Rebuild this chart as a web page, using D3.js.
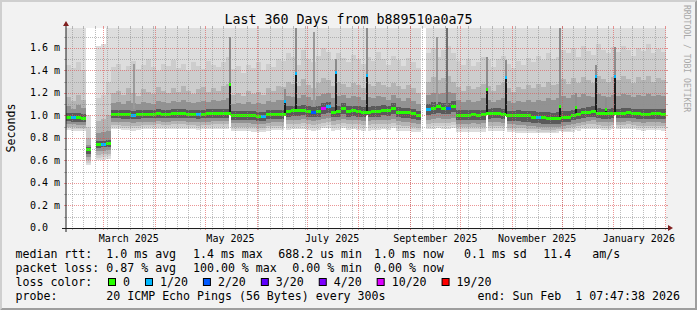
<!DOCTYPE html>
<html>
<head>
<meta charset="utf-8">
<script src="https://cdn.jsdelivr.net/npm/d3@7"></script>
<style>
  html, body { margin: 0; padding: 0; background: #f2f2f2; }
  svg { display: block; }
  text { font-family: "DejaVu Sans Mono", monospace; fill: #000; white-space: pre; }
</style>
</head>
<body>
<svg id="chart" width="697" height="310"></svg>
<script>
// ---- data -------------------------------------------------------------
const DAY = 86400000;
const endTime = Date.UTC(2026, 1, 1, 7, 47, 38);
const startTime = endTime - 360 * DAY;
const bucketDays = 3; // one value per 3 days, 120 buckets

// median rtt in ms
const median = [
  0.985, 0.98, 0.978, 0.975, 0.695, null, 0.74, 0.745, 0.75, 1.012,
  1.01, 1.008, 1.005, 0.998, 1.005, 1.012, 1.01, 1.012, 1.015, 1.012,
  1.01, 1.015, 1.018, 1.015, 1.012, 1.012, 1.008, 1.012, 1.015, 1.02,
  1.02, 1.018, 1.02, 1.0, 1.0, 1.002, 1.0, 0.995, 0.99, 0.99,
  1.005, 1.012, 1.012, 1.01, 1.035, 1.04, 1.04, 1.045, 1.035, 1.03,
  1.035, 1.06, 1.075, 1.03, 1.035, 1.065, 1.035, 1.04, 1.035, 1.03,
  1.03, 1.035, 1.035, 1.045, 1.04, 1.065, 1.03, 1.028, 1.025, 1.015,
  0.995, null, 1.05, 1.065, 1.075, 1.06, 1.06, 1.08, 1.0, 0.998,
  1.0, 1.005, 1.0, 1.005, 1.015, 1.02, 1.02, 1.01, 0.998, 0.998,
  1.0, 0.998, 0.995, 0.985, 0.98, 0.978, 0.975, 0.972, 0.975, 0.985,
  0.985, 1.0, 1.01, 1.025, 1.03, 1.035, 1.02, 1.015, 1.015, 1.02,
  1.018, 1.02, 1.022, 1.018, 1.015, 1.01, 1.012, 1.015, 1.015, 1.012
];

// lost pings out of 20
const lossCount = [
  0, 1, 0, 0, 0, 0, 0, 1, 0, 0,
  0, 0, 0, 1, 0, 0, 0, 0, 0, 0,
  0, 0, 0, 0, 0, 0, 1, 0, 0, 0,
  0, 0, 0, 0, 0, 0, 0, 0, 0, 1,
  0, 0, 0, 0, 0, 0, 0, 0, 0, 2,
  0, 10, 1, 0, 0, 0, 0, 0, 0, 0,
  0, 0, 0, 0, 0, 0, 0, 0, 0, 0,
  0, 0, 1, 0, 0, 0, 2, 0, 0, 0,
  0, 0, 0, 0, 0, 0, 0, 0, 0, 0,
  0, 0, 0, 0, 1, 0, 0, 0, 0, 0,
  0, 0, 0, 0, 0, 0, 0, 0, 0, 0,
  0, 0, 0, 0, 0, 0, 0, 0, 0, 0
];

// smoke: upper edges of the five bands (outer -> inner), ms
const smokeHigh1 = [
  1.9, 1.9, 1.9, 1.9, 1.0, null, 1.62, 1.63, 1.9, 1.9,
  1.9, 1.9, 1.9, 1.9, 1.9, 1.9, 1.9, 1.9, 1.9, 1.9,
  1.9, 1.9, 1.9, 1.9, 1.9, 1.9, 1.9, 1.9, 1.9, 1.9,
  1.9, 1.9, 1.9, 1.9, 1.9, 1.9, 1.9, 1.9, 1.9, 1.9,
  1.9, 1.9, 1.9, 1.9, 1.9, 1.9, 1.9, 1.9, 1.9, 1.9,
  1.9, 1.9, 1.9, 1.9, 1.9, 1.9, 1.9, 1.9, 1.9, 1.9,
  1.9, 1.9, 1.9, 1.9, 1.9, 1.9, 1.9, 1.9, 1.9, 1.9,
  1.9, null, 1.9, 1.9, 1.9, 1.9, 1.9, 1.9, 1.9, 1.9,
  1.9, 1.9, 1.9, 1.9, 1.9, 1.9, 1.9, 1.9, 1.9, 1.9,
  1.9, 1.9, 1.9, 1.9, 1.9, 1.9, 1.9, 1.9, 1.9, 1.9,
  1.9, 1.9, 1.9, 1.9, 1.9, 1.9, 1.9, 1.9, 1.9, 1.9,
  1.9, 1.9, 1.9, 1.9, 1.9, 1.9, 1.9, 1.9, 1.9, 1.9
];
const smokeHigh2 = [
  1.45, 1.42, 1.47, 1.40, 0.90, null, 1.15, 1.18, 1.30, 1.43,
  1.46, 1.40, 1.44, 1.48, 1.41, 1.45, 1.50, 1.43, 1.39, 1.46,
  1.44, 1.49, 1.42, 1.46, 1.40, 1.47, 1.44, 1.41, 1.48, 1.45,
  1.43, 1.47, 1.52, 1.41, 1.44, 1.38, 1.45, 1.42, 1.47, 1.40,
  1.46, 1.43, 1.50, 1.48, 1.55, 1.52, 1.45, 1.58, 1.50, 1.47,
  1.53, 1.60, 1.56, 1.49, 1.55, 1.51, 1.47, 1.54, 1.50, 1.46,
  1.52, 1.48, 1.56, 1.50, 1.45, 1.53, 1.49, 1.44, 1.51, 1.47,
  1.42, null, 1.55, 1.60, 1.52, 1.58, 1.62, 1.55, 1.48, 1.45,
  1.50, 1.44, 1.47, 1.52, 1.49, 1.43, 1.50, 1.53, 1.46, 1.42,
  1.48, 1.45, 1.51, 1.47, 1.53, 1.49, 1.55, 1.50, 1.52, 1.58,
  1.55, 1.60, 1.52, 1.62, 1.57, 1.54, 1.63, 1.58, 1.55, 1.61,
  1.56, 1.62, 1.58, 1.53, 1.60, 1.57, 1.63, 1.55, 1.59, 1.56
];
const smokeHigh3 = [
  1.16, 1.13, 1.18, 1.14, 0.80, null, 0.95, 0.97, 1.00, 1.20,
  1.22, 1.18, 1.24, 1.20, 1.17, 1.23, 1.21, 1.19, 1.25, 1.22,
  1.20, 1.24, 1.21, 1.26, 1.22, 1.19, 1.23, 1.25, 1.21, 1.24,
  1.22, 1.26, 1.28, 1.18, 1.20, 1.17, 1.22, 1.19, 1.21, 1.18,
  1.24, 1.22, 1.26, 1.25, 1.30, 1.28, 1.26, 1.32, 1.27, 1.24,
  1.29, 1.33, 1.31, 1.26, 1.30, 1.28, 1.25, 1.29, 1.27, 1.24,
  1.28, 1.26, 1.30, 1.27, 1.25, 1.29, 1.26, 1.23, 1.27, 1.24,
  1.20, null, 1.30, 1.34, 1.31, 1.33, 1.35, 1.30, 1.25, 1.22,
  1.26, 1.23, 1.25, 1.28, 1.26, 1.22, 1.27, 1.29, 1.24, 1.21,
  1.25, 1.23, 1.27, 1.24, 1.28, 1.25, 1.30, 1.27, 1.28, 1.32,
  1.28, 1.33, 1.29, 1.34, 1.31, 1.29, 1.35, 1.32, 1.30, 1.34,
  1.31, 1.35, 1.32, 1.29, 1.34, 1.31, 1.35, 1.30, 1.33, 1.31
];
const smokeHigh4 = [
  1.08, 1.06, 1.09, 1.07, 0.74, null, 0.84, 0.85, 0.86, 1.11,
  1.12, 1.10, 1.13, 1.11, 1.10, 1.12, 1.11, 1.10, 1.13, 1.12,
  1.11, 1.13, 1.12, 1.14, 1.12, 1.11, 1.12, 1.13, 1.12, 1.14,
  1.13, 1.14, 1.15, 1.10, 1.11, 1.10, 1.12, 1.10, 1.11, 1.10,
  1.13, 1.12, 1.14, 1.14, 1.17, 1.16, 1.15, 1.18, 1.16, 1.14,
  1.17, 1.19, 1.20, 1.15, 1.17, 1.18, 1.15, 1.17, 1.16, 1.14,
  1.16, 1.15, 1.17, 1.16, 1.14, 1.18, 1.15, 1.13, 1.15, 1.13,
  1.10, null, 1.18, 1.20, 1.19, 1.20, 1.21, 1.20, 1.14, 1.12,
  1.14, 1.12, 1.13, 1.15, 1.14, 1.12, 1.14, 1.15, 1.13, 1.11,
  1.13, 1.12, 1.14, 1.12, 1.14, 1.13, 1.15, 1.14, 1.15, 1.17,
  1.15, 1.18, 1.16, 1.19, 1.17, 1.16, 1.19, 1.17, 1.16, 1.18,
  1.17, 1.19, 1.18, 1.16, 1.18, 1.17, 1.19, 1.17, 1.18, 1.17
];
const smokeHigh5 = [
  1.02, 1.02, 1.025, 1.015, 0.72, null, 0.77, 0.775, 0.78, 1.05,
  1.05, 1.045, 1.05, 1.04, 1.045, 1.05, 1.05, 1.05, 1.055, 1.05,
  1.05, 1.055, 1.055, 1.055, 1.05, 1.05, 1.045, 1.05, 1.055, 1.06,
  1.06, 1.055, 1.06, 1.04, 1.04, 1.04, 1.04, 1.035, 1.03, 1.03,
  1.045, 1.05, 1.05, 1.05, 1.08, 1.085, 1.08, 1.09, 1.08, 1.075,
  1.08, 1.11, 1.12, 1.075, 1.08, 1.11, 1.08, 1.085, 1.08, 1.075,
  1.075, 1.08, 1.08, 1.09, 1.085, 1.11, 1.075, 1.07, 1.07, 1.06,
  1.04, null, 1.10, 1.115, 1.12, 1.11, 1.11, 1.13, 1.05, 1.045,
  1.045, 1.05, 1.045, 1.05, 1.06, 1.065, 1.065, 1.055, 1.04, 1.04,
  1.045, 1.04, 1.04, 1.035, 1.03, 1.03, 1.03, 1.025, 1.03, 1.035,
  1.035, 1.045, 1.055, 1.07, 1.075, 1.08, 1.065, 1.06, 1.06, 1.065,
  1.06, 1.065, 1.065, 1.06, 1.06, 1.055, 1.055, 1.06, 1.06, 1.055
];

// smoke: lower edges of the five bands (outer -> inner), ms
const smokeLow1 = [
  0.87, 0.865, 0.86, 0.86, 0.56, null, 0.6, 0.605, 0.61, 0.875,
  0.875, 0.87, 0.87, 0.865, 0.87, 0.875, 0.875, 0.875, 0.88, 0.875,
  0.875, 0.88, 0.88, 0.88, 0.875, 0.875, 0.87, 0.875, 0.875, 0.88,
  0.88, 0.88, 0.88, 0.86, 0.86, 0.86, 0.86, 0.855, 0.85, 0.85,
  0.865, 0.87, 0.87, 0.87, 0.87, 0.875, 0.875, 0.88, 0.87, 0.865,
  0.87, 0.885, 0.89, 0.865, 0.87, 0.885, 0.87, 0.875, 0.87, 0.865,
  0.865, 0.87, 0.87, 0.875, 0.87, 0.885, 0.865, 0.86, 0.86, 0.855,
  0.85, null, 0.875, 0.88, 0.885, 0.88, 0.88, 0.89, 0.85, 0.85,
  0.85, 0.855, 0.85, 0.855, 0.86, 0.865, 0.865, 0.86, 0.85, 0.85,
  0.845, 0.845, 0.84, 0.84, 0.84, 0.84, 0.84, 0.84, 0.845, 0.85,
  0.85, 0.855, 0.865, 0.875, 0.88, 0.88, 0.875, 0.87, 0.87, 0.875,
  0.875, 0.875, 0.88, 0.875, 0.87, 0.865, 0.87, 0.87, 0.87, 0.865
];
const smokeLow2 = [
  0.885, 0.88, 0.875, 0.875, 0.58, null, 0.625, 0.63, 0.635, 0.895,
  0.895, 0.89, 0.89, 0.885, 0.89, 0.895, 0.895, 0.895, 0.9, 0.895,
  0.895, 0.9, 0.9, 0.9, 0.895, 0.895, 0.89, 0.895, 0.895, 0.9,
  0.9, 0.9, 0.9, 0.88, 0.88, 0.88, 0.88, 0.875, 0.87, 0.87,
  0.885, 0.89, 0.89, 0.89, 0.895, 0.9, 0.9, 0.905, 0.895, 0.89,
  0.895, 0.91, 0.915, 0.89, 0.895, 0.91, 0.895, 0.9, 0.895, 0.89,
  0.89, 0.895, 0.895, 0.9, 0.895, 0.91, 0.89, 0.885, 0.885, 0.88,
  0.87, null, 0.9, 0.905, 0.91, 0.905, 0.905, 0.915, 0.875, 0.875,
  0.875, 0.88, 0.875, 0.88, 0.885, 0.89, 0.89, 0.885, 0.87, 0.87,
  0.865, 0.865, 0.86, 0.86, 0.855, 0.855, 0.855, 0.855, 0.86, 0.865,
  0.865, 0.875, 0.885, 0.895, 0.9, 0.9, 0.895, 0.89, 0.89, 0.895,
  0.895, 0.895, 0.9, 0.895, 0.89, 0.885, 0.89, 0.89, 0.89, 0.885
];
const smokeLow3 = [
  0.9, 0.895, 0.89, 0.89, 0.6, null, 0.65, 0.655, 0.66, 0.915,
  0.915, 0.91, 0.91, 0.905, 0.91, 0.915, 0.915, 0.915, 0.92, 0.915,
  0.915, 0.92, 0.92, 0.92, 0.915, 0.915, 0.91, 0.915, 0.915, 0.92,
  0.92, 0.92, 0.92, 0.9, 0.9, 0.9, 0.9, 0.895, 0.89, 0.89,
  0.905, 0.91, 0.91, 0.91, 0.92, 0.925, 0.925, 0.93, 0.92, 0.915,
  0.92, 0.935, 0.94, 0.915, 0.92, 0.935, 0.92, 0.925, 0.92, 0.915,
  0.915, 0.92, 0.92, 0.925, 0.92, 0.935, 0.915, 0.91, 0.91, 0.9,
  0.89, null, 0.925, 0.93, 0.935, 0.93, 0.93, 0.94, 0.895, 0.895,
  0.895, 0.9, 0.895, 0.9, 0.905, 0.91, 0.91, 0.905, 0.89, 0.89,
  0.885, 0.885, 0.88, 0.875, 0.875, 0.87, 0.87, 0.87, 0.875, 0.88,
  0.885, 0.895, 0.905, 0.915, 0.92, 0.925, 0.915, 0.91, 0.91, 0.915,
  0.915, 0.915, 0.92, 0.915, 0.91, 0.905, 0.91, 0.91, 0.91, 0.905
];
const smokeLow4 = [
  0.925, 0.92, 0.915, 0.915, 0.63, null, 0.68, 0.685, 0.69, 0.945,
  0.945, 0.94, 0.94, 0.935, 0.94, 0.945, 0.945, 0.945, 0.95, 0.945,
  0.945, 0.95, 0.95, 0.95, 0.945, 0.945, 0.94, 0.945, 0.945, 0.95,
  0.95, 0.95, 0.95, 0.93, 0.93, 0.93, 0.93, 0.925, 0.92, 0.92,
  0.935, 0.94, 0.94, 0.94, 0.955, 0.96, 0.96, 0.965, 0.955, 0.95,
  0.955, 0.97, 0.975, 0.95, 0.955, 0.97, 0.955, 0.96, 0.955, 0.95,
  0.95, 0.955, 0.955, 0.96, 0.955, 0.97, 0.95, 0.945, 0.945, 0.935,
  0.92, null, 0.96, 0.965, 0.975, 0.965, 0.965, 0.98, 0.925, 0.925,
  0.925, 0.93, 0.925, 0.93, 0.94, 0.94, 0.94, 0.935, 0.92, 0.92,
  0.915, 0.915, 0.91, 0.905, 0.9, 0.9, 0.895, 0.895, 0.9, 0.91,
  0.915, 0.925, 0.935, 0.945, 0.95, 0.955, 0.945, 0.94, 0.94, 0.945,
  0.945, 0.945, 0.95, 0.945, 0.94, 0.935, 0.94, 0.94, 0.94, 0.935
];
const smokeLow5 = [
  0.95, 0.945, 0.945, 0.94, 0.66, null, 0.71, 0.715, 0.72, 0.975,
  0.975, 0.97, 0.97, 0.965, 0.97, 0.975, 0.975, 0.975, 0.98, 0.975,
  0.975, 0.98, 0.98, 0.98, 0.975, 0.975, 0.97, 0.975, 0.975, 0.98,
  0.98, 0.98, 0.98, 0.96, 0.96, 0.96, 0.96, 0.955, 0.95, 0.95,
  0.965, 0.97, 0.97, 0.97, 0.99, 0.995, 0.995, 1.0, 0.99, 0.985,
  0.99, 1.01, 1.02, 0.985, 0.99, 1.01, 0.99, 0.995, 0.99, 0.985,
  0.985, 0.99, 0.99, 1.0, 0.995, 1.01, 0.985, 0.98, 0.98, 0.97,
  0.955, null, 1.0, 1.01, 1.02, 1.01, 1.01, 1.03, 0.955, 0.955,
  0.955, 0.96, 0.955, 0.96, 0.97, 0.975, 0.975, 0.965, 0.95, 0.95,
  0.95, 0.945, 0.945, 0.935, 0.93, 0.925, 0.925, 0.92, 0.925, 0.94,
  0.945, 0.955, 0.965, 0.98, 0.985, 0.99, 0.975, 0.97, 0.97, 0.975,
  0.975, 0.975, 0.98, 0.975, 0.97, 0.965, 0.97, 0.97, 0.97, 0.965
];
const smokeColors = ["#dddddd", "#cdcdcd", "#b4b4b4", "#929292", "#5a5a5a"];

// single-day latency spikes (day offset from start)
const spikeDays   = [98.1, 131.1, 137.4, 161.4, 180.3, 252.3, 263.4, 296.1, 305.4, 317.7, 323.8, 329.1];
const spikeFloor  = [1.0, 1.0, 0.87, 0.87, 1.0, 1.0, 1.0, 0.86, 0.87, 0.87, 0.87, 1.0];
const spikeLow    = [1.02, 1.01, 1.04, 1.03, 1.03, 1.01, 1.01, 0.975, 1.02, 1.03, 1.02, 1.02];
const spikeMedian = [1.27, 1.125, 1.375, 1.385, 1.355, 1.234, 1.34, 1.08, 1.07, 1.346, 1.055, 1.346];
const spikeTop    = [1.70, 1.23, 1.78, 1.50, 1.78, 1.52, 1.49, 1.78, 1.2, 1.45, 1.15, 1.61];
const spikeLoss   = [0, 1, 1, 1, 1, 0, 1, 0, 0, 1, 0, 1];

// single-day smoke streaks without a median jump
const streakDays = [40.5, 148.5, 222.2, 228.4];
const streakLow  = [1.06, 1.08, 1.1, 1.08];
const streakTop  = [1.46, 1.74, 1.70, 1.78];

const lossSteps  = [0, 1, 2, 3, 4, 10, 19];
const lossLabels = ["0", "1/20", "2/20", "3/20", "4/20", "10/20", "19/20"];
const lossColors = ["#26ff00", "#00b8ff", "#0059ff", "#5e00ff", "#7e00ff", "#dd00ff", "#ff0000"];

const yTicks = [0, 0.2, 0.4, 0.6, 0.8, 1.0, 1.2, 1.4, 1.6];
const yTickLabels = ["0.0", "0.2 m", "0.4 m", "0.6 m", "0.8 m", "1.0 m", "1.2 m", "1.4 m", "1.6 m"];
const xLabelMonths = ["2025-03", "2025-05", "2025-07", "2025-09", "2025-11", "2026-01"];

const title = "Last 360 Days from b889510a0a75";
const legendRows = [
  [["median rtt:", 15.5], ["1.0 ms avg", 106.3], ["1.4 ms max", 193], ["688.2 us min", 278.3],
   ["1.0 ms now", 374], ["0.1 ms sd", 464], ["11.4", 543.3], ["am/s", 592.3]],
  [["packet loss:", 15.5], ["0.87 % avg", 106.3], ["100.00 % max", 193], ["0.00 % min", 292.3],
   ["0.00 % now", 374]],
  [["loss color:", 15.5]],
  [["probe:", 15.5], ["20 ICMP Echo Pings (56 Bytes) every 300s", 106.3],
   ["end: Sun Feb  1 07:47:38 2026", 477.5]]
];

// ---- layout -------------------------------------------------------------
const W = 697, H = 310;
const pLeft = 66, pRight = 666, pTop = 28, pBottom = 228;

const svg = d3.select("#chart");
const x = d3.scaleUtc().domain([new Date(startTime), new Date(endTime)]).range([pLeft, pRight]);
const y = d3.scaleLinear().domain([0, 1.776]).range([pBottom, pTop]);
const dayDate = (d) => new Date(startTime + d * DAY);
const lossColor = (n) => lossColors[d3.bisectRight(lossSteps, n) - 1];

// background + 3d frame
svg.append("rect").attr("width", W).attr("height", H).attr("fill", "#f2f2f2");
svg.append("path").attr("d", "M0,0L697,0L695,2L2,2L2,308L0,310Z").attr("fill", "#cfcfcf");
svg.append("path").attr("d", "M697,0L697,310L0,310L2,308L695,308L695,2Z").attr("fill", "#9e9e9e");

svg.append("defs").append("clipPath").attr("id", "plotClip")
  .append("rect").attr("x", pLeft).attr("y", pTop).attr("width", pRight - pLeft).attr("height", pBottom - pTop);

svg.append("rect").attr("x", pLeft).attr("y", pTop).attr("width", pRight - pLeft)
  .attr("height", pBottom - pTop).attr("fill", "#ffffff");

const plot = svg.append("g").attr("clip-path", "url(#plotClip)").attr("shape-rendering", "crispEdges");

const buckets = d3.range(median.length).map((k) => ({
  k,
  t0: dayDate(k * bucketDays),
  t1: dayDate((k + 1) * bucketDays),
}));

const bands = [
  { lo: smokeLow1, hi: smokeHigh1 },
  { lo: smokeLow2, hi: smokeHigh2 },
  { lo: smokeLow3, hi: smokeHigh3 },
  { lo: smokeLow4, hi: smokeHigh4 },
  { lo: smokeLow5, hi: smokeHigh5 },
];

bands.forEach((band, i) => {
  plot.append("g")
    .selectAll("rect")
    .data(buckets.filter((b) => band.hi[b.k] != null))
    .join("rect")
    .attr("x", (b) => x(b.t0))
    .attr("width", (b) => x(b.t1) - x(b.t0))
    .attr("y", (b) => y(band.hi[b.k]))
    .attr("height", (b) => y(band.lo[b.k]) - y(band.hi[b.k]))
    .attr("fill", smokeColors[i]);
});

// streaks
plot.append("g")
  .selectAll("rect")
  .data(streakDays)
  .join("rect")
  .attr("x", (d) => Math.floor(x(dayDate(d))))
  .attr("width", 2)
  .attr("y", (d, i) => y(streakTop[i]))
  .attr("height", (d, i) => y(streakLow[i]) - y(streakTop[i]))
  .attr("fill", (d, i) => (i === 3 ? "#6e6e6e" : "#9a9a9a"));

// spikes
const spikeG = plot.append("g");
spikeDays.forEach((d, i) => {
  const sx = Math.floor(x(dayDate(d)));
  spikeG.append("rect").attr("x", sx).attr("width", 2)
    .attr("y", y(spikeFloor[i])).attr("height", y(0.8) - y(spikeFloor[i])).attr("fill", "#ffffff");
  spikeG.append("rect").attr("x", sx).attr("width", 2)
    .attr("y", y(spikeTop[i])).attr("height", y(spikeMedian[i]) - y(spikeTop[i])).attr("fill", "#8c8c8c");
  spikeG.append("rect").attr("x", sx).attr("width", 2)
    .attr("y", y(spikeMedian[i])).attr("height", y(spikeLow[i]) - y(spikeMedian[i])).attr("fill", "#1c1c1c");
});

// median, coloured by loss
plot.append("g")
  .selectAll("rect")
  .data(buckets.filter((b) => median[b.k] != null))
  .join("rect")
  .attr("x", (b) => x(b.t0))
  .attr("width", (b) => x(b.t1) - x(b.t0))
  .attr("y", (b) => y(median[b.k]) - 1.5)
  .attr("height", 3)
  .attr("fill", (b) => lossColor(lossCount[b.k]));

plot.append("g")
  .selectAll("rect")
  .data(spikeDays)
  .join("rect")
  .attr("x", (d) => Math.floor(x(dayDate(d))))
  .attr("width", 2)
  .attr("y", (d, i) => y(spikeMedian[i]) - 1.5)
  .attr("height", 3)
  .attr("fill", (d, i) => lossColor(spikeLoss[i]));

// ---- grid -------------------------------------------------------------
const gridColor = "rgba(143,143,143,0.6)";
const mgridColor = "rgba(222,79,79,0.6)";
const grid = svg.append("g").attr("shape-rendering", "crispEdges");

const weeks = d3.utcMonday.range(x.domain()[0], x.domain()[1]);
const months = d3.utcMonth.range(x.domain()[0], x.domain()[1]);
const vLines = weeks.map((d) => ({ d, major: false }))
  .concat(months.map((d) => ({ d, major: true })));

vLines.forEach((v) => {
  const px = Math.floor(x(v.d)) + 0.5;
  const c = v.major ? mgridColor : gridColor;
  grid.append("line").attr("x1", px).attr("x2", px).attr("y1", pTop).attr("y2", pBottom)
    .attr("stroke", c).attr("stroke-dasharray", "1,1");
  grid.append("line").attr("x1", px).attr("x2", px).attr("y1", pBottom).attr("y2", pBottom + 2).attr("stroke", c);
  grid.append("line").attr("x1", px).attr("x2", px).attr("y1", pTop - 2).attr("y2", pTop).attr("stroke", c);
});

d3.range(1, 18).forEach((i) => {
  const py = Math.round(y(i / 10)) + 0.5;
  const c = i % 2 === 0 ? mgridColor : gridColor;
  grid.append("line").attr("x1", pLeft).attr("x2", pRight).attr("y1", py).attr("y2", py)
    .attr("stroke", c).attr("stroke-dasharray", "1,1");
  grid.append("line").attr("x1", pLeft - 2).attr("x2", pLeft).attr("y1", py).attr("y2", py).attr("stroke", c);
  grid.append("line").attr("x1", pRight).attr("x2", pRight + 2).attr("y1", py).attr("y2", py).attr("stroke", c);
});

// ---- axes -------------------------------------------------------------
svg.append("line").attr("x1", pLeft - 4).attr("x2", pRight + 4).attr("y1", pBottom + 0.5).attr("y2", pBottom + 0.5)
  .attr("stroke", "#1f1f1f");
svg.append("line").attr("x1", pLeft).attr("x2", pLeft).attr("y1", pBottom + 4).attr("y2", pTop - 4)
  .attr("stroke", "#1f1f1f");
svg.append("path")
  .attr("d", `M${pRight + 2},${pBottom - 3}L${pRight + 2},${pBottom + 3}L${pRight + 7},${pBottom}Z`)
  .attr("fill", "#801f1f");
svg.append("path")
  .attr("d", `M${pLeft - 3},${pTop - 2}L${pLeft + 3},${pTop - 2}L${pLeft},${pTop - 7}Z`)
  .attr("fill", "#801f1f");

svg.append("g").selectAll("text")
  .data(yTicks)
  .join("text")
  .attr("x", 30)
  .attr("y", (d) => y(d) + 3.4)
  .attr("font-size", "10px")
  .text((d, i) => yTickLabels[i]);

const parseMonth = d3.utcParse("%Y-%m");
const fmtMonth = d3.utcFormat("%B %Y");
svg.append("g").selectAll("text")
  .data(xLabelMonths.map(parseMonth))
  .join("text")
  .attr("x", (d) => x(d3.utcDay.offset(d, 15)))
  .attr("y", 241.5)
  .attr("text-anchor", "middle")
  .attr("font-size", "10px")
  .text((d) => fmtMonth(d));

// ---- titles -------------------------------------------------------------
svg.append("text").attr("x", W / 2).attr("y", 23.6).attr("text-anchor", "middle")
  .attr("font-size", "13.3px").text(title);

svg.append("text").attr("transform", `translate(15,${(pTop + pBottom) / 2}) rotate(-90)`)
  .attr("text-anchor", "middle").attr("font-size", "11.6px").text("Seconds");

svg.append("text").attr("transform", "translate(684,5) rotate(90)")
  .attr("font-size", "8.1px").style("fill", "#a8a8a8").text("RRDTOOL / TOBI OETIKER");

// ---- legend -------------------------------------------------------------
const rowY = [258, 272, 286, 300];
legendRows.forEach((row, r) => {
  row.forEach(([t, lx]) => {
    svg.append("text").attr("x", lx).attr("y", rowY[r]).attr("font-size", "11.6px").text(t);
  });
});

let bx = 108.5;
lossLabels.forEach((lab, i) => {
  svg.append("rect").attr("x", bx).attr("y", rowY[2] - 7.5).attr("width", 7).attr("height", 7)
    .attr("fill", lossColors[i]).attr("stroke", "#000").attr("stroke-width", 1);
  const t = svg.append("text").attr("x", bx + 14.5).attr("y", rowY[2]).attr("font-size", "11.6px").text(lab);
  bx = bx + 14.5 + t.node().getComputedTextLength() + 15.5;
});
</script>
</body>
</html>
